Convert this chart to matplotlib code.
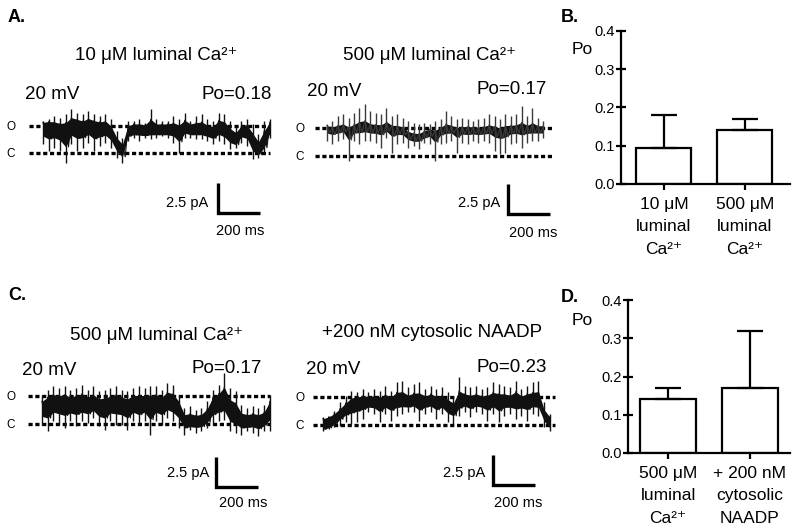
import numpy as np
import matplotlib
matplotlib.use("Agg")
import matplotlib.pyplot as plt

plt.rcParams['font.family'] = ['Liberation Sans', 'DejaVu Sans']

# ---------------- data ----------------
# bar charts (open probability, mean + upper SEM)
cats_b = ['10 μM\nluminal\nCa²⁺', '500 μM\nluminal\nCa²⁺']
po_b = [0.095, 0.14]
err_b = [0.085, 0.03]
cats_d = ['500 μM\nluminal\nCa²⁺', '+ 200 nM\ncytosolic\nNAADP']
po_d = [0.14, 0.17]
err_d = [0.03, 0.15]
po_ticks = [0.0, 0.1, 0.2, 0.3, 0.4]
po_ticklabels = ['0.0', '0.1', '0.2', '0.3', '0.4']

# single-channel traces, read column by column (pA, closed = 0)
# A: 10 uM luminal Ca2+
a1_hi = [2.67, 2.81, 3.08, 2.94, 3.22, 3.64, 3.36, 3.22, 3.50, 3.22,
         3.08, 3.22, 2.81, 1.83, 1.28, 2.67, 2.67, 2.81, 2.53, 3.64,
         2.81, 2.67, 2.67, 3.08, 2.81, 3.36, 2.67, 3.08, 3.22, 2.81,
         2.67, 3.36, 3.22, 2.67, 2.25, 2.67, 2.81, 2.39, 1.56, 2.67, 2.81]
a1_lo = [0.72, 0.17, 0.44, 0.17, -0.81, 0.72, 0.17, 0.44, 0.86, 0.17,
         0.58, 0.86, 0.44, -0.39, -0.81, 1.00, 1.28, 1.00, 1.28, 1.14,
         1.28, 1.42, 1.28, 0.86, 0.03, 1.28, 1.28, 1.14, 1.14, 1.00,
         0.72, 1.00, 0.72, 0.31, 0.44, 0.86, 0.58, -0.53, -0.39, -0.11, 1.28]
a1_mid = [2.11, 2.17, 2.11, 1.97, 1.83, 2.25, 2.25, 2.11, 2.25, 2.17,
          2.11, 2.11, 1.69, 0.72, 0.17, 1.83, 1.97, 1.97, 1.89, 1.97,
          1.97, 1.97, 1.97, 1.97, 1.83, 2.11, 1.97, 1.97, 1.97, 1.83,
          1.69, 2.11, 1.97, 1.42, 1.14, 1.83, 1.83, 0.86, 0.31, 1.00, 2.11]
# A: 500 uM luminal Ca2+
a2_hi = [2.64, 2.92, 3.33, 3.47, 3.19, 3.61, 4.03, 4.31, 3.75, 3.61,
         3.47, 4.03, 3.33, 3.47, 3.19, 2.92, 2.78, 2.64, 2.78, 2.64,
         2.92, 3.06, 3.75, 3.33, 3.06, 3.19, 3.06, 2.92, 3.06, 3.19,
         3.47, 3.33, 3.06, 3.47, 3.33, 3.47, 4.17, 3.33, 4.03, 3.19, 2.92]
a2_lo = [1.25, 0.97, 1.25, 1.39, -0.42, 1.25, 0.97, 1.25, 1.25, 1.11,
         0.69, 1.53, 0.28, 0.97, 1.11, 0.69, 0.83, 0.56, 1.11, 0.97,
         -0.42, 0.97, 1.11, 1.25, 0.28, 1.11, 0.97, 1.25, 1.11, 1.25,
         1.11, 0.42, 0.14, 0.28, 0.97, 1.11, 0.69, 1.11, 1.25, 1.25, 1.53]
a2_mid = [2.22, 2.14, 2.22, 2.31, 2.08, 2.22, 2.36, 2.36, 2.22, 2.22,
          2.22, 2.36, 2.22, 2.14, 2.08, 1.67, 1.53, 1.53, 1.81, 1.94,
          1.81, 2.08, 2.22, 2.22, 2.08, 2.14, 2.14, 2.14, 2.08, 2.14,
          2.22, 2.08, 2.03, 2.14, 2.22, 2.22, 2.22, 2.22, 2.22, 2.22, 2.22]
# C: 500 uM luminal Ca2+
c1_hi = [2.44, 2.86, 3.14, 3.00, 3.14, 2.86, 3.00, 3.28, 2.86, 3.14,
         2.72, 2.86, 3.00, 3.14, 2.86, 2.72, 3.00, 3.14, 3.00, 3.14,
         3.14, 2.86, 3.42, 3.28, 2.44, 1.33, 1.47, 1.19, 1.33, 1.89,
         2.86, 3.28, 4.25, 3.00, 2.72, 1.61, 1.33, 1.47, 1.33, 1.61, 2.44]
c1_lo = [-0.06, -0.61, 0.22, -0.06, -0.33, 0.22, -0.19, 0.22, 0.08, 0.50,
         -0.19, -0.47, 0.22, -0.06, -0.06, -0.47, 0.22, -0.06, 0.22, -0.89,
         0.22, -0.06, 0.50, 0.22, -0.33, -0.89, -0.47, -0.75, -0.61, -0.33,
         -0.06, 0.22, 0.36, -0.61, -0.75, -0.89, -0.61, -0.75, -1.03, -0.61, -0.61]
c1_mid = [1.33, 1.61, 1.75, 1.75, 1.75, 1.61, 1.75, 1.75, 1.61, 1.75,
          1.47, 1.47, 1.61, 1.75, 1.61, 1.47, 1.75, 1.61, 1.75, 1.61,
          1.75, 1.61, 1.89, 1.75, 1.33, 0.22, 0.28, 0.22, 0.28, 0.64,
          1.61, 1.75, 1.89, 1.06, 0.78, 0.22, 0.22, 0.28, 0.22, 0.36, 1.33]
# C: +200 nM cytosolic NAADP
c2_hi = [0.64, 0.78, 1.19, 1.89, 2.44, 2.86, 2.72, 3.00, 2.72, 3.00,
         2.86, 3.28, 2.86, 3.56, 3.69, 3.14, 3.42, 3.56, 3.00, 3.28,
         3.00, 3.14, 2.72, 2.44, 3.97, 3.28, 3.14, 3.28, 3.00, 3.14,
         3.56, 3.42, 3.28, 3.14, 3.69, 3.00, 3.28, 3.56, 3.69, 1.89, 0.92]
c2_lo = [-0.47, -0.33, -0.19, -0.06, 0.22, 0.08, 0.22, 0.50, 1.06, 0.92,
         0.22, 0.92, 0.36, 0.78, 0.92, 1.06, 1.06, 0.36, 0.92, 1.06,
         0.50, 0.92, 0.22, 0.08, 0.78, 1.06, 0.64, 1.06, 0.92, 0.36,
         0.92, 0.22, 0.78, 0.92, 0.50, 0.78, 0.36, 0.92, 0.78, -0.19, -0.47]
c2_mid = [0.08, 0.22, 0.50, 0.92, 1.33, 1.75, 1.89, 1.94, 1.94, 1.89,
          1.83, 1.94, 1.89, 2.03, 2.03, 1.94, 2.03, 1.94, 1.94, 2.03,
          1.89, 1.94, 1.61, 1.33, 1.89, 2.03, 1.94, 2.03, 1.94, 1.94,
          2.03, 1.94, 2.03, 1.94, 2.03, 1.94, 2.03, 2.03, 2.03, 0.78, 0.22]

trace_ms = [1080, 1030, 1085, 1080]          # trace durations
open_pa = [2.25, 2.3, 2.3, 2.33]             # open-level current
titles = ['10 μM luminal Ca²⁺', '500 μM luminal Ca²⁺',
          '500 μM luminal Ca²⁺', '+200 nM cytosolic NAADP']
po_text = ['Po=0.18', 'Po=0.17', 'Po=0.17', 'Po=0.23']
bar_pa, bar_ms = 2.5, 200

# ---------------- layout helpers ----------------
W, H = 800, 530
fig = plt.figure(figsize=(8, 5.3), dpi=100)
PX_PER_PA = 12.0
PX_PER_MS = 42.0 / 200.0


def add_ax_px(l, t, r, b):
    return fig.add_axes([l / W, 1 - b / H, (r - l) / W, (b - t) / H])


def ftext(x, y, s, **kw):
    fig.text(x / W, 1 - y / H, s, **kw)


def trace_panel(hi, lo, mid, dur, opn, x0, yc, line_l, line_r, bar_corner,
                core, frac, zcol, title, title_xy, mv_xy, po, po_xy, lab_x,
                pa_xy, ms_xy):
    L, R, T, B = x0 - 40, x0 + 270, yc - 70, yc + 80
    ax = add_ax_px(L, T, R, B)
    ax.set_xlim((L - x0) / PX_PER_MS, (R - x0) / PX_PER_MS)
    ax.set_ylim((yc - B) / PX_PER_PA, (yc - T) / PX_PER_PA)
    ax.axis('off')
    ax.patch.set_visible(False)
    # dotted open / closed levels
    for lvl in (0.0, opn):
        ax.plot([(line_l - x0) / PX_PER_MS, (line_r - x0) / PX_PER_MS], [lvl, lvl],
                color='k', lw=2.4, dashes=(1.25, 0.8), dash_capstyle='butt', zorder=1)
    n = len(mid)
    t = np.linspace(0, dur, n)
    dt = t[1] - t[0]
    hi_a, lo_a, mid_a = np.asarray(hi), np.asarray(lo), np.asarray(mid)
    upper = np.maximum(mid_a + frac * (hi_a - mid_a), mid_a + core)
    lower = np.minimum(mid_a - frac * (mid_a - lo_a), mid_a - core)
    ax.fill_between(t, lower, upper, color='#111111', lw=0, zorder=2)
    ax.vlines(t, lo_a, hi_a, color=zcol, lw=1.0, zorder=3)
    # short connecting strokes between neighbouring extremes
    zx = np.empty(2 * n)
    zy = np.empty(2 * n)
    zx[0::2] = t
    zx[1::2] = t + dt / 2
    zy[0::2] = upper
    zy[1::2] = lower
    ax.plot(zx[:-1], zy[:-1], color=zcol, lw=0.8, zorder=3)
    # scale bar
    bx = (bar_corner[0] - x0) / PX_PER_MS
    by = (yc - bar_corner[1]) / PX_PER_PA
    ax.plot([bx, bx, bx + bar_ms], [by + bar_pa, by, by], color='k', lw=2.4,
            solid_joinstyle='miter', solid_capstyle='butt')
    # texts
    ftext(title_xy[0], title_xy[1], title, ha='center', va='baseline', fontsize=13.5)
    ftext(mv_xy[0], mv_xy[1], '20 mV', ha='left', va='baseline', fontsize=13.5)
    ftext(po_xy[0], po_xy[1], po, ha='right', va='baseline', fontsize=13.5)
    ftext(lab_x, yc - opn * PX_PER_PA + 4, 'O', ha='center', va='baseline', fontsize=8.5)
    ftext(lab_x, yc + 4, 'C', ha='center', va='baseline', fontsize=8.5)
    ftext(pa_xy[0], pa_xy[1], '2.5 pA', ha='right', va='baseline', fontsize=10.5)
    ftext(ms_xy[0], ms_xy[1], '200 ms', ha='center', va='baseline', fontsize=10.5)


trace_panel(a1_hi, a1_lo, a1_mid, trace_ms[0], open_pa[0], 43, 153, 29, 270, (218, 213),
            0.45, 0.5, '#111111', titles[0], (156, 59.5), (25, 99), po_text[0], (272, 99), 11,
            (208, 207), (240, 235))
trace_panel(a2_hi, a2_lo, a2_mid, trace_ms[1], open_pa[1], 327, 156, 315, 553, (508, 214),
            0.3, 0.3, '#3a3a3a', titles[1], (430, 59.5), (307, 96), po_text[1], (547, 94), 300,
            (500, 207), (533, 237))
trace_panel(c1_hi, c1_lo, c1_mid, trace_ms[2], open_pa[2], 42, 424, 28, 270, (216, 487),
            0.5, 0.5, '#111111', titles[2], (157, 340), (22, 375), po_text[2], (262, 373), 11,
            (209, 477), (243, 507))
trace_panel(c2_hi, c2_lo, c2_mid, trace_ms[3], open_pa[3], 323, 425, 313, 555, (493, 485),
            0.45, 0.45, '#111111', titles[3], (432, 337), (306, 374), po_text[3], (547, 372), 300,
            (485, 477), (518, 507))


def bar_panel(l, t, r, b, cats, vals, errs, xlim, po_xy):
    ax = add_ax_px(l, t, r, b)
    x = np.arange(1, len(vals) + 1)
    ax.bar(x, vals, width=0.68, color='white', edgecolor='k', linewidth=1.6, zorder=2)
    ax.errorbar(x, vals, yerr=[np.zeros(len(errs)), errs], fmt='none', ecolor='k',
                elinewidth=1.6, capsize=9.5, capthick=1.6, zorder=3)
    ax.set_xlim(*xlim)
    ax.set_ylim(0, 0.4)
    ax.set_yticks(po_ticks)
    ax.set_yticklabels(po_ticklabels)
    ax.set_xticks(x)
    ax.set_xticklabels(cats)
    for lab in ax.get_xticklabels():
        lab.set_linespacing(1.6)
    for s in ('top', 'right'):
        ax.spines[s].set_visible(False)
    for s in ('left', 'bottom'):
        ax.spines[s].set_linewidth(1.6)
    ax.tick_params(axis='y', direction='inout', length=7, width=1.6, pad=1, labelsize=10.5)
    ax.tick_params(axis='x', direction='inout', length=9, width=1.6, pad=5, labelsize=12.5)
    ax.patch.set_visible(False)
    ftext(po_xy[0], po_xy[1], 'Po', ha='left', va='baseline', fontsize=12.5)


bar_panel(621, 31, 790, 184, cats_b, po_b, err_b, (0.47, 2.56), (572, 54))
bar_panel(628, 300, 790, 453, cats_d, po_d, err_d, (0.51, 2.49), (572, 325))

# panel letters
ftext(8, 22.5, 'A.', ha='left', va='baseline', fontsize=13, fontweight='bold')
ftext(561, 21.5, 'B.', ha='left', va='baseline', fontsize=13, fontweight='bold')
ftext(8, 300.5, 'C.', ha='left', va='baseline', fontsize=13, fontweight='bold')
ftext(561, 301.5, 'D.', ha='left', va='baseline', fontsize=13, fontweight='bold')

fig.savefig('out.png', dpi=100)
